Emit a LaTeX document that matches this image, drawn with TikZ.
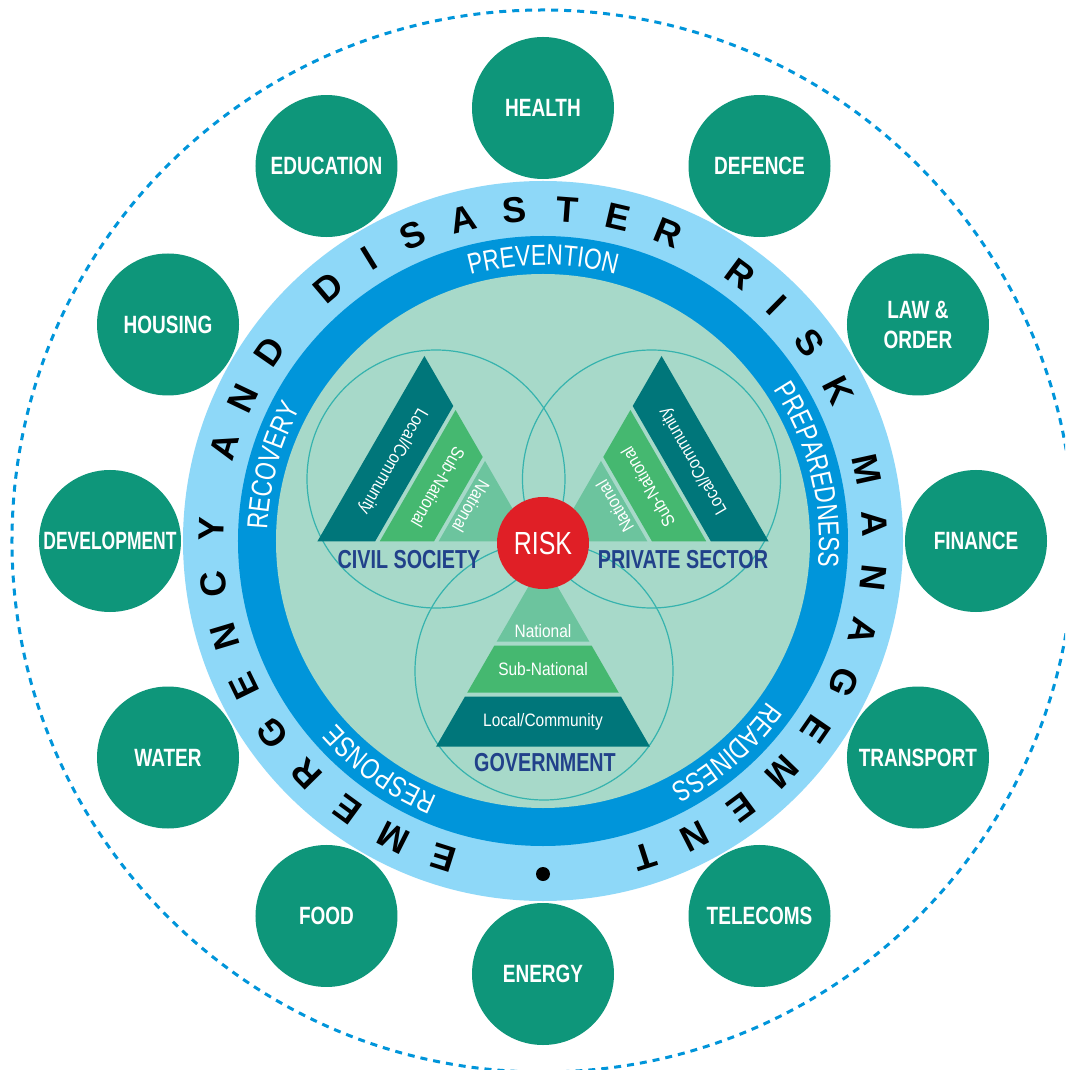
\documentclass[tikz,border=0pt]{standalone}
\usepackage{fontspec}
\usepackage{graphicx}
\setmainfont{Liberation Sans}
\newfontfamily\condfont[FakeStretch=0.76]{Liberation Sans}
\newfontfamily\narrowfont[FakeStretch=0.78]{Liberation Sans}
\newfontfamily\levelfont[FakeStretch=0.86]{Liberation Sans}
\usetikzlibrary{decorations.text}

\definecolor{sectorgreen}{RGB}{14,150,122}
\definecolor{skyring}{RGB}{142,216,248}
\definecolor{phasering}{RGB}{0,149,218}
\definecolor{riskdisc}{RGB}{167,217,201}
\definecolor{localteal}{RGB}{0,118,122}
\definecolor{subgreen}{RGB}{69,184,112}
\definecolor{natgreen}{RGB}{108,196,158}
\definecolor{actornavy}{RGB}{33,65,138}
\definecolor{riskred}{RGB}{224,31,38}
\definecolor{overlap}{RGB}{54,179,174}

\tikzset{
  sector/.style={circle, fill=sectorgreen, minimum size=142pt, inner sep=0pt,
    text=white, align=center, font=\condfont\bfseries\fontsize{25}{30}\selectfont},
  ringletter/.style={inner sep=0pt, font=\bfseries\fontsize{36}{36}\selectfont},
  level/.style={inner sep=0pt, text=white, font=\levelfont\fontsize{18}{18}\selectfont},
  actor/.style={inner sep=0pt, text=actornavy, font=\condfont\bfseries\fontsize{26}{26}\selectfont},
  riskdot/.style={circle, fill=riskred, minimum size=92pt, inner sep=0pt,
    text=white, font=\narrowfont\fontsize{32}{32}\selectfont},
  phase/.style={decorate, decoration={text along path, text color=white,
    text align=center, text={|\narrowfont\fontsize{29}{29}\selectfont|#1}}}
}

% one pyramid, drawn for the government and turned for the others
\newcommand{\levels}[1]{%
  \fill [localteal] (-107,-205.7) -- (107,-205.7) -- (78.1,-155.7) -- (-78.1,-155.7) -- cycle;
  \fill [subgreen] (-75.8,-151.7) -- (75.8,-151.7) -- (48.7,-104.7) -- (-48.7,-104.7) -- cycle;
  \fill [natgreen] (-46.4,-100.7) -- (46.4,-100.7) -- (0,-20.4) -- cycle;
  \node [level] (#1-local) at (0,-180.7) {Local/Community};
  \node [level] (#1-sub) at (0,-128.2) {Sub-National};
  \node [level] (#1-nat) at (0,-90) {National};
}

\begin{document}
\begin{tikzpicture}[x=1pt, y=1pt]

	\useasboundingbox (-543,-529) rectangle (522,541);
	\clip (-543,-529) rectangle (522,541);
	\fill [white] (-543,-529) rectangle (522,541);

	\draw [phasering, line width=3, dash pattern=on 7pt off 6pt] (0,0) circle [radius=531pt];

	\foreach \ang/\name/\txt in {90/health/HEALTH, 60/defence/DEFENCE, 30/law/{LAW \&\\ORDER},
	    0/finance/FINANCE, -30/transport/TRANSPORT, -60/telecoms/TELECOMS, -90/energy/ENERGY,
	    -120/food/FOOD, -150/water/WATER, 180/development/{\scalebox{0.92}[1]{DEVELOPMENT}},
	    150/housing/HOUSING, 120/education/EDUCATION}
	  \node [sector] (\name) at (\ang:433) {\txt};

	\fill [skyring] (0,0) circle [radius=360pt];
	\fill [phasering] (0,0) circle [radius=305pt];
	\fill [riskdisc] (0,0) circle [radius=267pt];

	\foreach \ch/\a [count=\i] in {E/252.5, M/243.2, E/233.9, R/224.6, G/215.3, E/206, N/196.7,
	    C/187.4, Y/178, A/163.5, N/154.5, D/145.3, D/130.3, I/121.6, S/113.2, A/104, S/94.9,
	    T/85.8, E/76.9, R/67.9, R/53.5, I/45.3, S/36.6, K/27, M/12.4, A/3, N/-6.4, A/-15.8,
	    G/-25.2, E/-34.6, M/-44, E/-53.4, N/-62.8, T/-72.2}
	  \node [ringletter, rotate=\a-90] (letter\i) at (\a:332) {\ch};
	\fill [black] (-90:333) circle [radius=7pt];

	\path [phase=PREVENTION] (150:276) arc [start angle=150, end angle=30, radius=276pt];
	\path [phase=PREPAREDNESS] (74:276) arc [start angle=74, end angle=-46, radius=276pt];
	\path [phase=READINESS] (11:276) arc [start angle=11, end angle=-109, radius=276pt];
	\path [phase=RESPONSE] (-65.5:276) arc [start angle=-65.5, end angle=-185.5, radius=276pt];
	\path [phase=RECOVERY] (224.5:276) arc [start angle=224.5, end angle=104.5, radius=276pt];

	\draw [overlap, line width=1.2] (-107,62) circle [radius=129pt];
	\draw [overlap, line width=1.2] (108.5,62) circle [radius=129pt];
	\draw [overlap, line width=1.2] (1,-130) circle [radius=129pt];

	\levels{gov}
	\begin{scope}[rotate around={-120:(0,-7)}, transform shape]
	  \levels{civil}
	\end{scope}
	\begin{scope}[rotate around={120:(0,-7)}, transform shape]
	  \levels{private}
	\end{scope}

	\node [actor] (civil) at (-134,-19) {CIVIL SOCIETY};
	\node [actor] (private) at (140,-19) {PRIVATE SECTOR};
	\node [actor] (government) at (2,-222) {GOVERNMENT};

	\node [riskdot] (risk) at (0,-2) {RISK};

\end{tikzpicture}
\end{document}
